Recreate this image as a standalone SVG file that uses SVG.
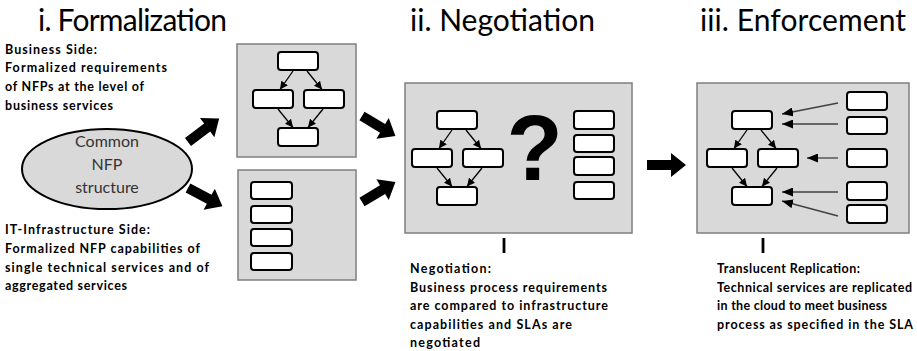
<svg xmlns="http://www.w3.org/2000/svg" xmlns:xlink="http://www.w3.org/1999/xlink" width="917" height="351" viewBox="0 0 917 351">
<style>
.title{font-family:Lato,"Open Sans","Liberation Sans",sans-serif;font-size:30px;fill:#000}
.body{font-family:Lato,"Open Sans","Liberation Sans",sans-serif;font-size:12.5px;font-weight:bold;fill:#000}
.ell{font-family:Lato,"Open Sans","Liberation Sans",sans-serif;font-size:16px;fill:#333;text-anchor:middle}
.panel{fill:#d9d9d9;stroke:#7f7f7f;stroke-width:1.5}
.svc{fill:#fff;stroke:#000;stroke-width:2}
.flow{stroke:#000;stroke-width:1.3;fill:none;marker-end:url(#ah)}
.rep{stroke:#404040;stroke-width:1.3;fill:none;marker-end:url(#ah2)}
.fat{fill:#000}
.tick{stroke:#000;stroke-width:2.8}
</style>
<defs>
<marker id="ah" markerUnits="userSpaceOnUse" markerWidth="9" markerHeight="8" refX="8" refY="4" orient="auto"><path d="M0,0 L8,4 L0,8 Z" fill="#000"/></marker>
<marker id="ah2" markerUnits="userSpaceOnUse" markerWidth="12" markerHeight="9" refX="11" refY="4.5" orient="auto"><path d="M0,0 L11,4.5 L0,9 Z" fill="#000"/></marker>
<path id="fatArrow" d="M0,-5 H24 V-12 L39,0 L24,12 V5 H0 Z"/>
<g id="proc">
<rect class="svc" x="25" y="0" width="40" height="18" rx="3"/>
<rect class="svc" x="0" y="38" width="40" height="18" rx="3"/>
<rect class="svc" x="51" y="38" width="40" height="18" rx="3"/>
<rect class="svc" x="25" y="76" width="40" height="18" rx="3"/>
<line class="flow" x1="40" y1="19" x2="27" y2="37.5"/>
<line class="flow" x1="54" y1="19" x2="69" y2="37.5"/>
<line class="flow" x1="25" y1="57" x2="40" y2="75.5"/>
<line class="flow" x1="70" y1="57" x2="55" y2="75.5"/>
</g>
</defs>

<g id="titles">
<text class="title" x="38" y="31" textLength="189">i. Formalization</text>
<text class="title" x="410" y="31" textLength="185">ii. Negotiation</text>
<text class="title" x="700" y="31" textLength="206">iii. Enforcement</text>
</g>

<g id="business-side-text">
<text class="body" x="5" y="53.5" textLength="92">Business  Side:</text>
<text class="body" x="5" y="72" textLength="162">Formalized requirements</text>
<text class="body" x="5" y="91" textLength="139">of NFPs at the level of</text>
<text class="body" x="5" y="110" textLength="108">business services</text>
</g>

<g id="common-nfp">
<ellipse cx="107" cy="169" rx="85" ry="40" fill="#d9d9d9" stroke="#000" stroke-width="2"/>
<text class="ell" x="107" y="147">Common</text>
<text class="ell" x="107" y="170">NFP</text>
<text class="ell" x="107" y="193">structure</text>
</g>

<g id="it-side-text">
<text class="body" x="5" y="234" textLength="145">IT-Infrastructure Side:</text>
<text class="body" x="5" y="253" textLength="195">Formalized NFP capabilities of</text>
<text class="body" x="5" y="271.5" textLength="204">single technical  services and  of</text>
<text class="body" x="5" y="290" textLength="122">aggregated services</text>
</g>

<g id="business-process-box">
<rect class="panel" x="237" y="44" width="119" height="113"/>
<use xlink:href="#proc" x="253" y="52"/>
</g>

<g id="technical-services-box">
<rect class="panel" x="238" y="170" width="118" height="110"/>
<rect class="svc" x="251" y="182" width="41" height="17" rx="3"/>
<rect class="svc" x="251" y="206" width="41" height="17" rx="3"/>
<rect class="svc" x="251" y="229" width="41" height="17" rx="3"/>
<rect class="svc" x="251" y="253" width="41" height="17" rx="3"/>
</g>

<g id="negotiation-box">
<rect class="panel" x="405" y="83" width="227" height="150"/>
<use xlink:href="#proc" x="412" y="111"/>
<text x="534.5" y="180" font-family="'Liberation Sans',Arial,sans-serif" font-weight="bold" font-size="92" text-anchor="middle">?</text>
<rect class="svc" x="574" y="111" width="40" height="18" rx="3"/>
<rect class="svc" x="574" y="135" width="40" height="17" rx="3"/>
<rect class="svc" x="574" y="157" width="40" height="18" rx="3"/>
<rect class="svc" x="574" y="182" width="40" height="17" rx="3"/>
</g>

<g id="negotiation-text">
<text class="body" x="410" y="273" textLength="81">Negotiation:</text>
<text class="body" x="410" y="291.5" textLength="197">Business process requirements</text>
<text class="body" x="410" y="310" textLength="198">are compared to infrastructure</text>
<text class="body" x="410" y="328.5" textLength="162">capabilities and  SLAs are</text>
<text class="body" x="410" y="347" textLength="70">negotiated</text>
</g>

<g id="enforcement-box">
<rect class="panel" x="697" y="83" width="212" height="150"/>
<use xlink:href="#proc" x="707" y="111"/>
<rect class="svc" x="847" y="92" width="40" height="18" rx="3"/>
<rect class="svc" x="847" y="117" width="40" height="17" rx="3"/>
<rect class="svc" x="847" y="149" width="40" height="18" rx="3"/>
<rect class="svc" x="847" y="182" width="40" height="18" rx="3"/>
<rect class="svc" x="847" y="205" width="40" height="18" rx="3"/>
</g>

<g id="enforcement-text">
<text class="body" x="717" y="273" textLength="143">Translucent Replication:</text>
<text class="body" x="717" y="291.5" textLength="195">Technical services are replicated</text>
<text class="body" x="717" y="310" textLength="170">in the cloud to meet business</text>
<text class="body" x="717" y="328.5" textLength="196">process as specified in the SLA</text>
</g>

<g id="connectors">
<use xlink:href="#fatArrow" class="fat" transform="translate(188,142) rotate(-37)"/>
<use xlink:href="#fatArrow" class="fat" transform="translate(188,188) rotate(28)"/>
<use xlink:href="#fatArrow" class="fat" transform="translate(362,116) rotate(31)"/>
<use xlink:href="#fatArrow" class="fat" transform="translate(362,202) rotate(-31)"/>
<use xlink:href="#fatArrow" class="fat" transform="translate(647,165)"/>
<line class="rep" x1="838" y1="103" x2="782" y2="114"/>
<line class="rep" x1="838" y1="124" x2="782" y2="124"/>
<line class="rep" x1="838" y1="158" x2="807" y2="158"/>
<line class="rep" x1="838" y1="192" x2="782" y2="192"/>
<line class="rep" x1="838" y1="216" x2="782" y2="201"/>
<line class="tick" x1="504" y1="238" x2="504" y2="253"/>
<line class="tick" x1="763" y1="238" x2="763" y2="253"/>
</g>
</svg>
